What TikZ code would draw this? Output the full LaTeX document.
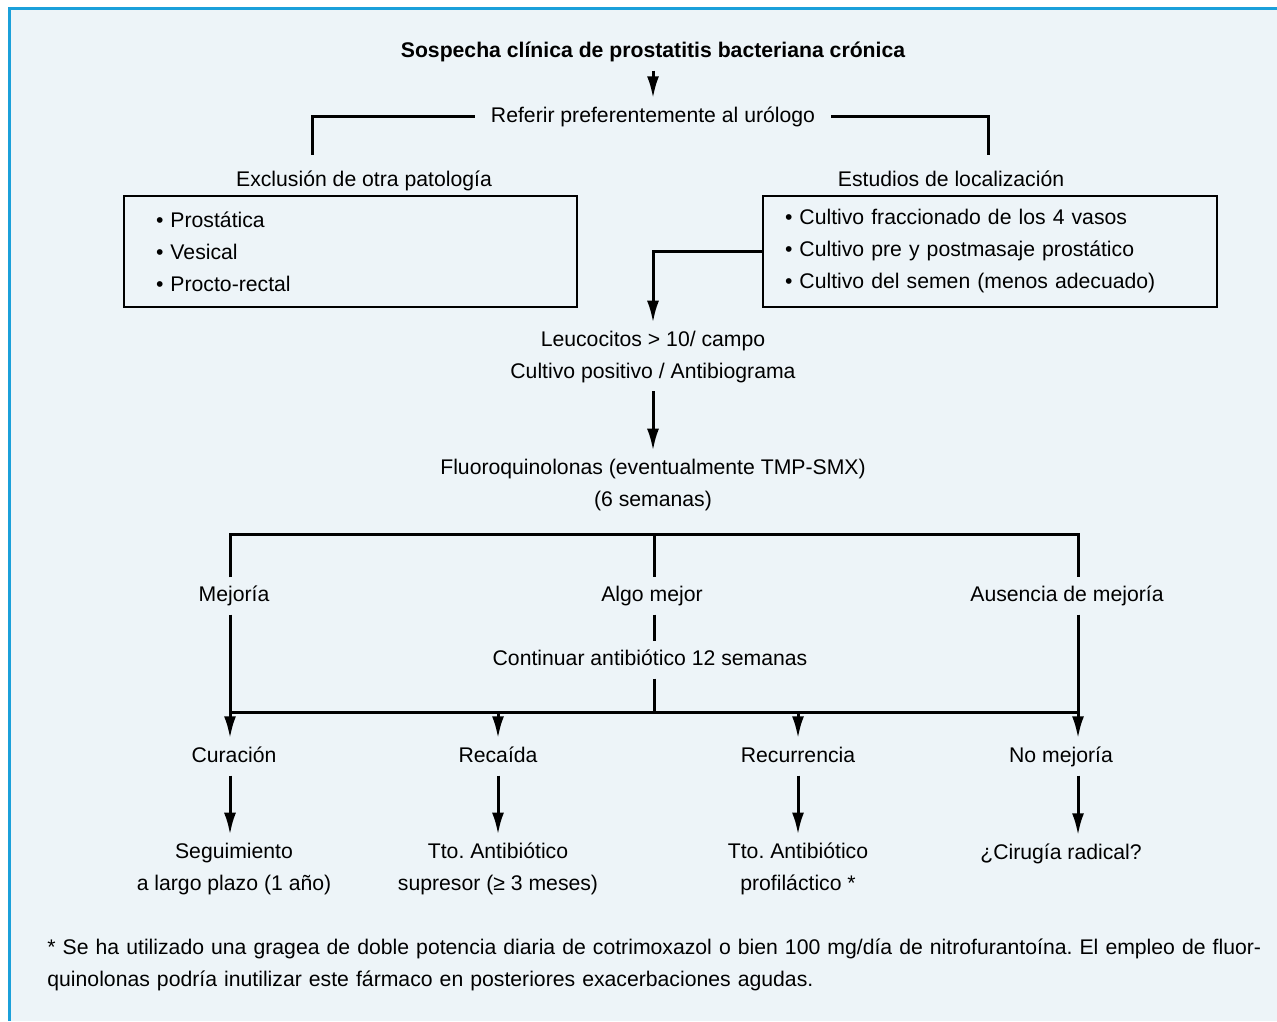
\documentclass[tikz,border=0pt]{standalone}
\usepackage{fontspec}
\setmainfont{Liberation Sans}
\usepackage{xcolor}
\usepackage{tikz}
\usetikzlibrary{arrows.meta,positioning,calc}
\definecolor{frameblue}{HTML}{1BA0DA}
\definecolor{lightblue}{HTML}{EDF4F8}
\frenchspacing

\begin{document}
\begin{tikzpicture}[x=0.5pt,y=-0.5pt,>={Latex[length=11pt,width=6pt]},font=\fontsize{10.6}{16}\selectfont,
  lbl/.style={inner xsep=8pt,inner ysep=4pt,align=center},
  one/.style={lbl,text height=8pt,text depth=2.3pt},
  listbox/.style={draw,line width=0.75pt,align=left,inner xsep=#1,inner ysep=0pt,minimum height=55.5pt},
  ln/.style={line width=1.5pt},
  arr/.style={ln,->}]
\useasboundingbox (0,0) rectangle (1277,1021);
\fill[white] (0,0) rectangle (1277,1021);
\fill[lightblue] (9,9) rectangle (1277,1021);
\draw[frameblue,line width=1.5pt] (1277,9) -- (9,9) -- (9,1021);
\node[one] (title) at (653,52) {\bfseries Sospecha clínica de prostatitis bacteriana crónica};
\node[one] (refer) at (653,117) {Referir preferentemente al urólogo};
\node[one] (excl) at (364,181) {Exclusión de otra patología};
\node[one] (estud) at (951,181) {Estudios de localización};
\node[listbox=16pt,text width=194.5pt] (exclbox) at (350.5,251.5) {• Prostática\\• Vesical\\• Procto-rectal};
\node[listbox=11pt,text width=205pt] (estbox) at (990,251.5) {• Cultivo fraccionado de los 4 vasos\\• Cultivo pre y postmasaje prostático\\• Cultivo del semen (menos adecuado)};
\node[lbl] (leuco) at (653,357) {Leucocitos > 10/ campo\\Cultivo positivo / Antibiograma};
\node[lbl] (fluoro) at (653,485) {Fluoroquinolonas (eventualmente TMP-SMX)\\(6 semanas)};
\node[one] (mej) at (234,596) {Mejoría};
\node[one] (algo) at (652,596) {Algo mejor};
\node[one] (ausen) at (1067,596) {Ausencia de mejoría};
\node[one] (cont) at (650,660) {Continuar antibiótico 12 semanas};
\node[one] (cura) at (234,757) {Curación};
\node[one] (recai) at (498,757) {Recaída};
\node[one] (recur) at (798,757) {Recurrencia};
\node[one] (nomej) at (1061,757) {No mejoría};
\node[lbl] (segui) at (234,869) {Seguimiento\\a largo plazo (1 año)};
\node[lbl] (supre) at (498,869) {Tto. Antibiótico\\supresor (≥ 3 meses)};
\node[lbl] (profi) at (798,869) {Tto. Antibiótico\\profiláctico *};
\node[one] (cirug) at (1061,854) {¿Cirugía radical?};
\node[anchor=north west,inner sep=0pt,text width=605.5pt,align=left] (nota) at (47,938) {\makebox[605.5pt][s]{* Se ha utilizado una gragea de doble potencia diaria de cotrimoxazol o bien 100 mg/día de nitrofurantoína. El empleo de fluor-}\\quinolonas podría inutilizar este fármaco en posteriores exacerbaciones agudas.};
% puntos de las ramas
\coordinate (dropL) at (312,155);
\coordinate (dropR) at (988,155);
\coordinate (tl) at (230,534);
\coordinate (tm) at (654,534);
\coordinate (tr) at (1078,534);
\coordinate (bl) at (230,712);
\coordinate (bm) at (654,712);
\coordinate (br) at (1078,712);
\coordinate (colB) at (498,712);
\coordinate (colC) at (798,712);
\draw[arr] (title) -- (refer);
\draw[ln] (refer.west) -| (dropL);
\draw[ln] (refer.east) -| (dropR);
\draw[arr] (estbox.west) -| (leuco.north);
\draw[arr] (leuco) -- (fluoro);
\draw[ln] (mej.north -| tl) -- (tl) -- (tr) -- (ausen.north -| tr);
\draw[ln] (tm) -- (algo.north -| tm);
\draw[ln] (algo.south -| tm) -- (cont.north -| tm);
\draw[ln] (cont.south -| tm) -- (bm);
\draw[ln] (bl) -- (br);
\draw[arr] (mej.south -| tl) -- (cura.north -| tl);
\draw[arr] (ausen.south -| tr) -- (nomej.north -| tr);
\draw[arr] (colB) -- (recai);
\draw[arr] (colC) -- (recur);
\draw[arr] (cura.south -| tl) -- (segui.north -| tl);
\draw[arr] (recai) -- (supre);
\draw[arr] (recur) -- (profi);
\draw[arr] (nomej.south -| tr) -- (cirug.north -| tr);
\end{tikzpicture}
\end{document}
